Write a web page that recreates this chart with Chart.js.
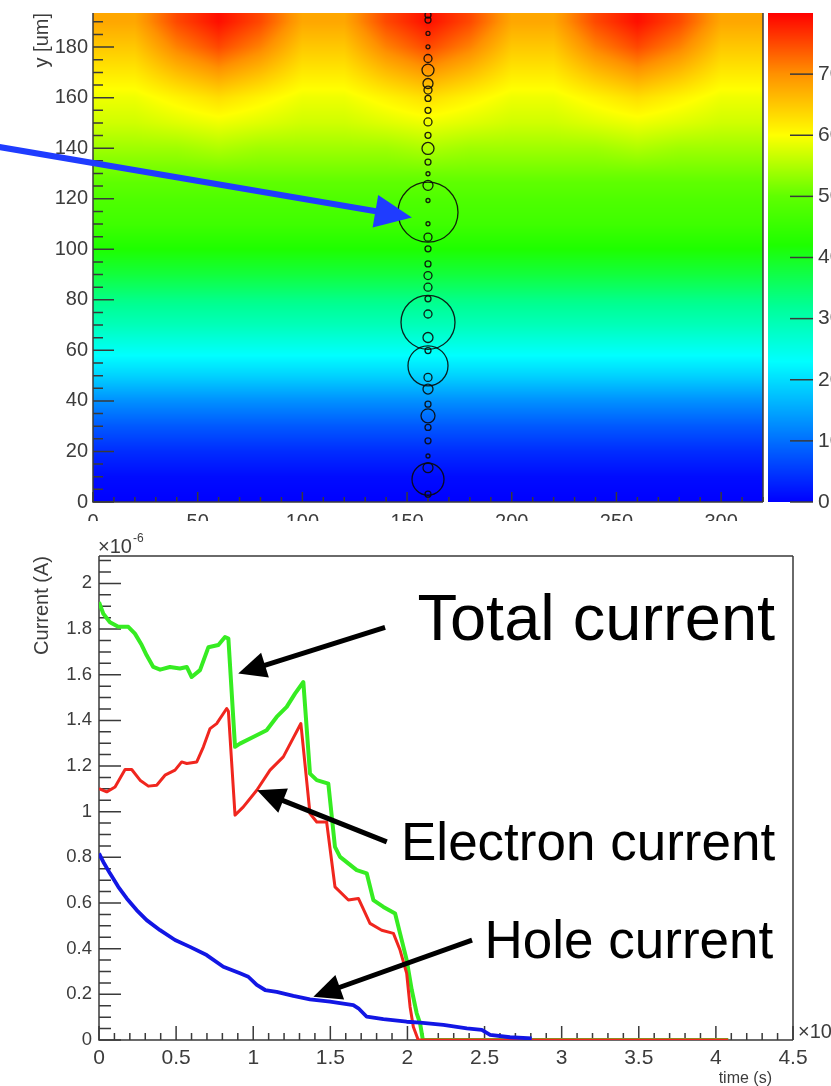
<!DOCTYPE html>
<html>
<head>
<meta charset="utf-8">
<title>Weighting field and induced current</title>
<script src="https://cdn.jsdelivr.net/npm/chart.js@4.4.1/dist/chart.umd.min.js"></script>
<style>
  html, body { margin: 0; padding: 0; background: #fff; }
  #page { position: relative; width: 831px; height: 1086px; overflow: hidden; }
  #fieldBox { position: absolute; left: 0; top: 0; width: 831px; height: 521px; overflow: hidden; }
  #currentBox { position: absolute; left: 0; top: 521px; width: 831px; height: 565px; }
</style>
</head>
<body>
<div id="page">
  <div id="fieldBox"><canvas id="fieldChart" width="831" height="560"></canvas></div>
  <div id="currentBox"><canvas id="currentChart" width="831" height="565"></canvas></div>
</div>
<script>
// ================= DATA: FIELD MAP (top) =================
const fieldX = [0, 20, 40, 60, 80, 100, 120, 140, 160, 180, 200, 220, 240, 260, 280, 300, 320];
const fieldY = [0, 10, 20, 30, 40, 50, 60, 70, 80, 90, 100, 110, 120, 130, 140, 150, 160, 170, 180, 190];
// one row per fieldY value, one column per fieldX value
const fieldZ = [
  [0, 0, 0, 0, 0, 0, 0, 0, 0, 0, 0, 0, 0, 0, 0, 0, 0],
  [1, 1, 1, 1, 1, 1, 1, 1, 1, 1, 1, 1, 1, 1, 1, 1, 1],
  [4, 4, 4, 4, 4, 4, 4, 4, 4, 4, 4, 4, 4, 4, 4, 4, 4],
  [8, 8, 8, 8, 8, 8, 8, 8, 8, 8, 8, 8, 8, 8, 8, 8, 8],
  [13, 13, 13, 13, 13, 13, 13, 13, 13, 13, 13, 13, 13, 13, 13, 13, 13],
  [19, 19, 19, 19, 19, 19, 19, 19, 19, 19, 19, 19, 19, 19, 19, 19, 19],
  [24, 24, 24, 24, 24, 24, 24, 24, 24, 24, 24, 24, 24, 24, 24, 24, 24],
  [29, 29, 29, 29, 29, 29, 29, 29, 29, 29, 29, 29, 29, 29, 29, 29, 29],
  [33, 33, 33, 33, 33, 33, 33, 33, 33, 33, 33, 33, 33, 33, 33, 33, 33],
  [38, 38, 38, 38, 38, 38, 38, 38, 38, 38, 38, 38, 38, 38, 38, 38, 38],
  [42, 42, 42, 42, 42, 42, 42, 42, 42, 42, 42, 42, 42, 42, 42, 42, 42],
  [46, 46, 46, 46, 46, 46, 46, 46, 46, 46, 46, 46, 46, 46, 46, 46, 46],
  [48, 48, 48, 48, 48, 48, 48, 48, 48, 48, 48, 48, 48, 48, 48, 48, 48],
  [51, 51, 51, 51, 51, 51, 51, 51, 51, 51, 51, 51, 51, 51, 51, 51, 51],
  [54, 54, 54, 55, 54, 54, 54, 54, 55, 54, 54, 54, 54, 55, 54, 54, 54],
  [57, 57, 58, 59, 58, 57, 57, 58, 59, 58, 57, 57, 58, 59, 58, 57, 57],
  [59, 59, 61, 63, 61, 59, 59, 61, 63, 61, 59, 59, 61, 63, 61, 59, 59],
  [62, 62, 66, 69, 66, 62, 62, 66, 69, 66, 62, 62, 66, 69, 66, 62, 62],
  [65, 65, 71, 75, 71, 65, 65, 71, 75, 71, 65, 65, 71, 75, 71, 65, 65],
  [68, 68, 75, 79, 75, 68, 68, 75, 79, 75, 68, 68, 75, 79, 75, 68, 68]
];
const fieldXTicks = [0, 50, 100, 150, 200, 250, 300];
const fieldYTicks = [0, 20, 40, 60, 80, 100, 120, 140, 160, 180];
const colorTicks = [0, 10, 20, 30, 40, 50, 60, 70];

// charge clusters drawn as circles along the track
const clusterX = 160;
const clusterY = [192.7, 190.7, 185.4, 180.1, 175.5, 170.9, 165.6, 163.0, 159.7, 155.0,
  150.4, 145.1, 139.9, 134.5, 129.9, 125.3, 119.3, 114.7, 110.1, 104.8,
  100.2, 94.2, 89.6, 85.0, 80.4, 74.4, 71.1, 65.1, 59.9, 53.9,
  49.3, 44.7, 38.7, 34.1, 29.5, 24.2, 18.2, 13.6, 9.0, 3.1];
const clusterR = [3, 3, 2, 2, 4, 6, 5, 4, 3, 3,
  4, 3, 6, 3, 2, 5, 2, 30, 2, 4,
  3, 3, 4, 4, 3, 4, 27, 5, 3, 20,
  4, 5, 3, 7, 3, 3, 2, 5, 16, 3];

// ================= DATA: CURRENTS (bottom) =================
// time in 1e-9 s, current in 1e-6 A
const timeTotal = [0, 0.028, 0.071, 0.125, 0.19, 0.233, 0.277, 0.309, 0.352, 0.396,
  0.46, 0.525, 0.569, 0.601, 0.655, 0.709, 0.774, 0.817, 0.839, 0.882,
  0.914, 1.0, 1.087, 1.152, 1.217, 1.271, 1.325, 1.368, 1.412, 1.487,
  1.53, 1.563, 1.671, 1.736, 1.779, 1.844, 1.92, 1.952, 1.995, 2.028,
  2.06, 2.082, 2.1, 4.08];
const currentTotal = [1.918, 1.867, 1.83, 1.81, 1.81, 1.78, 1.73, 1.685, 1.634, 1.622,
  1.634, 1.627, 1.634, 1.59, 1.62, 1.72, 1.73, 1.765, 1.758, 1.284,
  1.298, 1.327, 1.357, 1.415, 1.459, 1.517, 1.568, 1.167, 1.138, 1.123,
  0.846, 0.802, 0.744, 0.73, 0.613, 0.583, 0.554, 0.467, 0.35, 0.219,
  0.117, 0.073, 0, 0];

const timeElectron = [0, 0.05, 0.104, 0.169, 0.212, 0.266, 0.32, 0.374, 0.428, 0.493,
  0.536, 0.569, 0.634, 0.677, 0.72, 0.763, 0.828, 0.839, 0.882, 0.936,
  1.023, 1.109, 1.195, 1.309, 1.368, 1.412, 1.476, 1.53, 1.617, 1.682,
  1.757, 1.833, 1.909, 1.952, 1.995, 2.017, 2.038, 2.07, 4.08];
const currentElectron = [1.101, 1.087, 1.108, 1.185, 1.185, 1.138, 1.112, 1.116, 1.16, 1.182,
  1.218, 1.211, 1.218, 1.284, 1.364, 1.386, 1.452, 1.44, 0.985, 1.021,
  1.094, 1.182, 1.24, 1.386, 0.992, 0.955, 0.955, 0.671, 0.613, 0.62,
  0.511, 0.481, 0.467, 0.394, 0.292, 0.146, 0.058, 0, 0];

const timeHole = [0, 0.028, 0.071, 0.125, 0.18, 0.244, 0.309, 0.396, 0.493, 0.59,
  0.698, 0.806, 0.914, 0.968, 1.023, 1.077, 1.152, 1.26, 1.368, 1.498,
  1.649, 1.682, 1.736, 1.844, 1.995, 2.082, 2.233, 2.385, 2.482, 2.536,
  2.665, 2.806];
const currentHole = [0.817, 0.78, 0.73, 0.671, 0.62, 0.569, 0.525, 0.481, 0.438, 0.408,
  0.372, 0.321, 0.292, 0.277, 0.241, 0.219, 0.211, 0.193, 0.178, 0.168,
  0.153, 0.139, 0.102, 0.091, 0.08, 0.076, 0.066, 0.051, 0.044, 0.022,
  0.012, 0.007];

const timeTicks = [0, 0.5, 1, 1.5, 2, 2.5, 3, 3.5, 4, 4.5];
const currentTicks = [0, 0.2, 0.4, 0.6, 0.8, 1, 1.2, 1.4, 1.6, 1.8, 2];

// ================= STYLE =================
const FONT = '"Liberation Sans", Arial, Helvetica, sans-serif';
const AXIS_COLOR = "#3a3a3a";
const LABEL_COLOR = "#3c3c3c";
Chart.defaults.font.family = FONT;

// rainbow palette stops: value -> rgb
const PALETTE = [
  [0, [0, 0, 255]], [23, [0, 255, 255]], [32, [0, 255, 150]], [42, [30, 255, 0]],
  [50, [95, 255, 0]], [60, [255, 255, 0]], [70, [255, 145, 0]], [80, [255, 0, 0]]
];

function paletteColor(v) {
  if (v <= PALETTE[0][0]) return PALETTE[0][1];
  for (let i = 1; i < PALETTE.length; i++) {
    const [v1, c1] = PALETTE[i];
    if (v <= v1) {
      const [v0, c0] = PALETTE[i - 1];
      const t = (v - v0) / (v1 - v0);
      return [0, 1, 2].map(k => Math.round(c0[k] + (c1[k] - c0[k]) * t));
    }
  }
  return PALETTE[PALETTE.length - 1][1];
}

function gridPos(axis, v) {
  const n = axis.length;
  if (v <= axis[0]) return { i: 0, t: 0 };
  if (v >= axis[n - 1]) return { i: n - 2, t: 1 };
  let i = 0;
  while (axis[i + 1] < v) i++;
  return { i, t: (v - axis[i]) / (axis[i + 1] - axis[i]) };
}

function sampleField(gx, gy) {
  const r0 = fieldZ[gy.i], r1 = fieldZ[gy.i + 1];
  const a = r0[gx.i] + (r0[gx.i + 1] - r0[gx.i]) * gx.t;
  const b = r1[gx.i] + (r1[gx.i + 1] - r1[gx.i]) * gx.t;
  return a + (b - a) * gy.t;
}

const tickValues = list => scale => { scale.ticks = list.map(value => ({ value })); };
const shortNum = v => String(+v.toFixed(2));

// ================= PLUGINS =================
const fieldMapPlugin = {
  id: "fieldMap",
  beforeDatasetsDraw(chart) {
    const { ctx, chartArea: a, scales } = chart;
    const x0 = Math.round(a.left), y0 = Math.round(a.top);
    const w = Math.round(a.right) - x0, h = Math.round(a.bottom) - y0;
    const img = ctx.createImageData(w, h);
    const cols = [];
    for (let i = 0; i < w; i++) cols.push(gridPos(fieldX, scales.x.getValueForPixel(x0 + i + 0.5)));
    for (let j = 0; j < h; j++) {
      const gy = gridPos(fieldY, scales.y.getValueForPixel(y0 + j + 0.5));
      for (let i = 0; i < w; i++) {
        const c = paletteColor(sampleField(cols[i], gy));
        const p = (j * w + i) * 4;
        img.data[p] = c[0]; img.data[p + 1] = c[1]; img.data[p + 2] = c[2]; img.data[p + 3] = 255;
      }
    }
    ctx.putImageData(img, x0, y0);

    // colour bar, drawn through its own scale
    const cb = scales.cb;
    const cbLeft = a.right + 5, cbWidth = 45;
    for (let py = Math.round(cb.top); py < Math.round(cb.bottom); py++) {
      const c = paletteColor(cb.getValueForPixel(py + 0.5));
      ctx.fillStyle = `rgb(${c[0]},${c[1]},${c[2]})`;
      ctx.fillRect(cbLeft, py, cbWidth, 1);
    }
    ctx.save();
    ctx.strokeStyle = AXIS_COLOR;
    ctx.lineWidth = 1.5;
    cb.ticks.forEach(t => {
      const py = cb.getPixelForValue(t.value);
      ctx.beginPath();
      ctx.moveTo(cbLeft + 22, py);
      ctx.lineTo(cbLeft + cbWidth, py);
      ctx.stroke();
    });
    ctx.restore();
  }
};

function minorValues(scale, step) {
  const out = [];
  for (let k = Math.ceil(scale.min / step - 1e-9); k * step <= scale.max + 1e-9; k++) out.push(k * step);
  return out;
}

// frame and inward ticks, drawn under the data
const rootAxesPlugin = {
  id: "rootAxes",
  beforeDatasetsDraw(chart, args, opts) {
    const { ctx, chartArea: a, scales: { x, y } } = chart;
    ctx.save();
    ctx.strokeStyle = AXIS_COLOR;
    ctx.lineWidth = 1.5;
    ctx.beginPath();
    ctx.moveTo(a.left, a.top); ctx.lineTo(a.left, a.bottom); ctx.lineTo(a.right, a.bottom);
    ctx.moveTo(a.right, a.bottom); ctx.lineTo(a.right, a.top);
    if (opts.topFrame) { ctx.moveTo(a.right, a.top); ctx.lineTo(a.left, a.top); }
    ctx.stroke();

    ctx.beginPath();
    minorValues(x, opts.xMinor).forEach(v => {
      const px = x.getPixelForValue(v);
      ctx.moveTo(px, a.bottom); ctx.lineTo(px, a.bottom - opts.xMinorLen);
    });
    x.ticks.forEach(t => {
      const px = x.getPixelForValue(t.value);
      ctx.moveTo(px, a.bottom); ctx.lineTo(px, a.bottom - opts.xMajorLen);
    });
    minorValues(y, opts.yMinor).forEach(v => {
      const py = y.getPixelForValue(v);
      ctx.moveTo(a.left, py); ctx.lineTo(a.left + opts.yMinorLen, py);
    });
    y.ticks.forEach(t => {
      const py = y.getPixelForValue(t.value);
      ctx.moveTo(a.left, py); ctx.lineTo(a.left + opts.yMajorLen, py);
    });
    ctx.stroke();
    ctx.restore();
  }
};

function drawArrow(ctx, x1, y1, x2, y2, color, lineWidth, headLen, headWidth) {
  const ang = Math.atan2(y2 - y1, x2 - x1);
  const cos = Math.cos(ang), sin = Math.sin(ang);
  const bx = x2 - headLen * cos, by = y2 - headLen * sin;
  ctx.save();
  ctx.strokeStyle = color;
  ctx.fillStyle = color;
  ctx.lineWidth = lineWidth;
  ctx.beginPath();
  ctx.moveTo(x1, y1);
  ctx.lineTo(bx + 2 * cos, by + 2 * sin);
  ctx.stroke();
  ctx.beginPath();
  ctx.moveTo(x2, y2);
  ctx.lineTo(bx + headWidth / 2 * sin, by - headWidth / 2 * cos);
  ctx.lineTo(bx - headWidth / 2 * sin, by + headWidth / 2 * cos);
  ctx.closePath();
  ctx.fill();
  ctx.restore();
}

// notes: positions in data units of each chart
const notesPlugin = {
  id: "notes",
  afterDraw(chart, args, opts) {
    const { ctx, scales: { x, y } } = chart;
    (opts.arrows || []).forEach(n => {
      drawArrow(ctx, x.getPixelForValue(n.tail[0]), y.getPixelForValue(n.tail[1]),
        x.getPixelForValue(n.tip[0]), y.getPixelForValue(n.tip[1]),
        n.color, n.width, n.headLen, n.headWidth);
    });
    ctx.save();
    (opts.labels || []).forEach(n => {
      ctx.fillStyle = n.color || "#000";
      ctx.font = `${n.size}px ${FONT}`;
      ctx.textAlign = "right";
      ctx.textBaseline = "alphabetic";
      ctx.fillText(n.text, x.getPixelForValue(n.at[0]), y.getPixelForValue(n.at[1]));
    });
    ctx.restore();
    if (opts.extra) opts.extra(chart);
  }
};

// ================= FIELD CHART =================
new Chart(document.getElementById("fieldChart"), {
  type: "bubble",
  data: {
    datasets: [{
      data: clusterY.map((yv, i) => ({ x: clusterX, y: yv, r: clusterR[i] })),
      backgroundColor: "rgba(0,0,0,0)",
      borderColor: "rgba(10,10,10,0.9)",
      borderWidth: 1.3
    }]
  },
  options: {
    responsive: false,
    animation: false,
    events: [],
    layout: { autoPadding: false, padding: { top: 13, left: 0, right: 0, bottom: 0 } },
    plugins: {
      legend: { display: false },
      tooltip: { enabled: false },
      rootAxes: { xMinor: 10, xMinorLen: 5, xMajorLen: 10, yMinor: 5, yMinorLen: 10, yMajorLen: 21, topFrame: false },
      notes: {
        arrows: [{ tail: [-47, 140.8], tip: [152.3, 112.6], color: "#1f3cff", width: 6, headLen: 37, headWidth: 33 }]
      }
    },
    scales: {
      x: {
        type: "linear", min: 0, max: 320,
        afterBuildTicks: tickValues(fieldXTicks),
        afterFit: s => { s.height = 58; },
        grid: { display: false, drawTicks: false },
        border: { display: false },
        ticks: { padding: 8, color: LABEL_COLOR, font: { size: 20 }, maxRotation: 0, callback: shortNum }
      },
      y: {
        type: "linear", position: "left", min: 0, max: 193.5,
        afterBuildTicks: tickValues(fieldYTicks),
        afterFit: s => { s.width = 93; },
        grid: { display: false, drawTicks: true, tickLength: 5 },
        border: { display: false },
        ticks: { padding: 0, color: LABEL_COLOR, font: { size: 20 }, callback: shortNum },
        title: { display: true, text: "y [um]", align: "end", color: LABEL_COLOR, font: { size: 20 }, padding: { top: 30, bottom: 0 } }
      },
      cb: {
        type: "linear", axis: "y", position: "right", min: 0, max: 80,
        afterBuildTicks: tickValues(colorTicks),
        afterFit: s => { s.width = 68; },
        grid: { display: false, drawTicks: true, tickLength: 55 },
        border: { display: false },
        ticks: { padding: 0, color: LABEL_COLOR, font: { size: 21 }, callback: shortNum }
      }
    }
  },
  plugins: [fieldMapPlugin, rootAxesPlugin, notesPlugin]
});

// ================= CURRENT CHART =================
const series = (xs, ys) => xs.map((t, i) => ({ x: t, y: ys[i] }));

new Chart(document.getElementById("currentChart"), {
  type: "line",
  data: {
    datasets: [
      { label: "Total current", data: series(timeTotal, currentTotal), borderColor: "#36ec22", borderWidth: 4, order: 3 },
      { label: "Electron current", data: series(timeElectron, currentElectron), borderColor: "#f0261e", borderWidth: 3, order: 2 },
      { label: "Hole current", data: series(timeHole, currentHole), borderColor: "#1216e4", borderWidth: 3.8, order: 1 }
    ]
  },
  options: {
    responsive: false,
    animation: false,
    events: [],
    layout: { autoPadding: false, padding: { top: 35, right: 38, left: 0, bottom: 0 } },
    elements: { point: { radius: 0 }, line: { tension: 0, borderJoinStyle: "round", fill: false } },
    plugins: {
      legend: { display: false },
      tooltip: { enabled: false },
      rootAxes: { xMinor: 0.1, xMinorLen: 7, xMajorLen: 14, yMinor: 0.05, yMinorLen: 12, yMajorLen: 22, topFrame: true },
      notes: {
        arrows: [
          { tail: [1.855, 1.807], tip: [0.903, 1.605], color: "#000", width: 5, headLen: 28, headWidth: 26 },
          { tail: [1.866, 0.868], tip: [1.025, 1.094], color: "#000", width: 5, headLen: 28, headWidth: 26 },
          { tail: [2.419, 0.4376], tip: [1.39, 0.1895], color: "#000", width: 5, headLen: 28, headWidth: 26 }
        ],
        labels: [
          { text: "Total current", at: [4.384, 1.75], size: 65 },
          { text: "Electron current", at: [4.384, 0.788], size: 53 },
          { text: "Hole current", at: [4.372, 0.359], size: 53 }
        ],
        extra(chart) {
          const { ctx, chartArea: a } = chart;
          ctx.save();
          ctx.fillStyle = LABEL_COLOR;
          ctx.textBaseline = "alphabetic";
          ctx.textAlign = "left";
          ctx.font = `20px ${FONT}`;
          ctx.fillText("\u00d710", a.left - 1, a.top - 3);
          const w = ctx.measureText("\u00d710").width;
          ctx.font = `12px ${FONT}`;
          ctx.fillText("-6", a.left + w, a.top - 14);
          ctx.font = `20px ${FONT}`;
          ctx.fillText("\u00d710", a.right + 5, a.bottom - 2);
          ctx.font = `16px ${FONT}`;
          ctx.textAlign = "right";
          ctx.fillText("time (s)", a.right - 21, a.bottom + 43);
          ctx.restore();
        }
      }
    },
    scales: {
      x: {
        type: "linear", min: 0, max: 4.5,
        afterBuildTicks: tickValues(timeTicks),
        afterFit: s => { s.height = 46; },
        grid: { display: false, drawTicks: false },
        border: { display: false },
        ticks: { padding: 6, color: LABEL_COLOR, font: { size: 21 }, maxRotation: 0, callback: shortNum }
      },
      y: {
        type: "linear", min: 0, max: 2.12,
        afterBuildTicks: tickValues(currentTicks),
        afterFit: s => { s.width = 99; },
        grid: { display: false, drawTicks: false },
        border: { display: false },
        ticks: { padding: 7, color: LABEL_COLOR, font: { size: 18.5 }, callback: shortNum },
        title: { display: true, text: "Current (A)", align: "end", color: LABEL_COLOR, font: { size: 20 }, padding: { top: 30, bottom: 0 } }
      }
    }
  },
  plugins: [rootAxesPlugin, notesPlugin]
});
</script>
</body>
</html>
